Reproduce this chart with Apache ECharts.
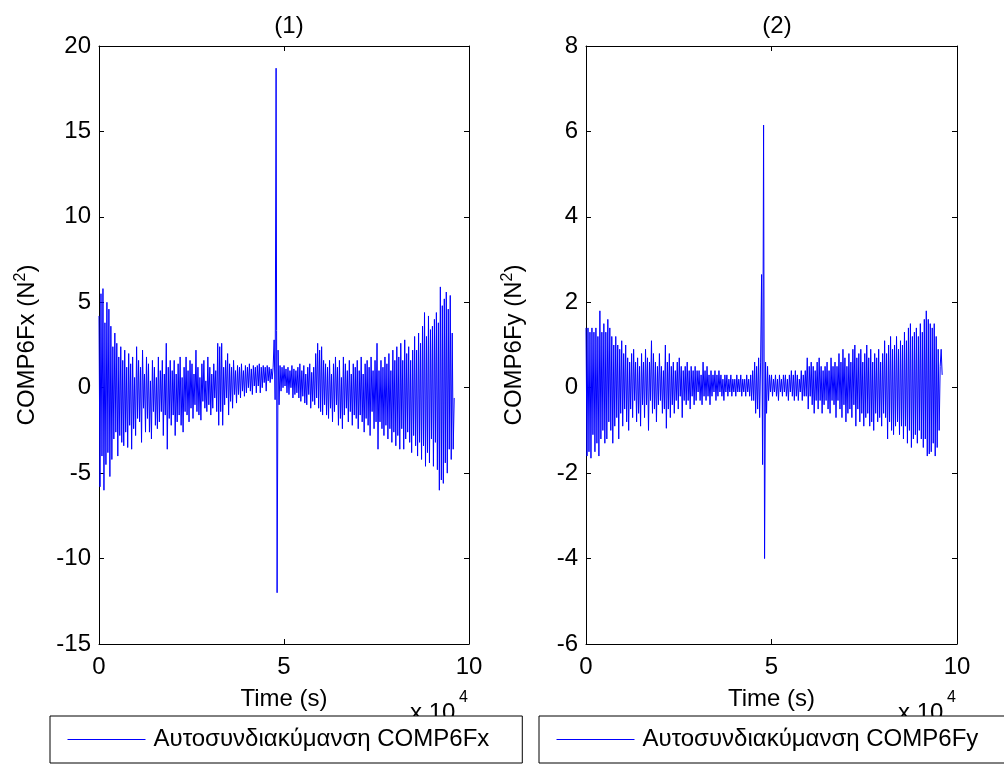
<!DOCTYPE html>
<html>
<head>
<meta charset="utf-8">
<script src="https://cdn.jsdelivr.net/npm/echarts@6/dist/echarts.min.js"></script>
<style>
html,body{margin:0;padding:0;background:#fff;}
#chart{width:1004px;height:764px;}
</style>
</head>
<body>
<div id="chart"></div>
<script>
// Time span covered by the samples (x 10^4 s)
const timeSpan = 9.6;

// Autocovariance of COMP6Fx (N^2)
const fxValues = [
  4.2, -5.8, 5.5, -4.0, 5.8, -6.0, 3.8, -4.5, 5.0, -3.8, 4.6, -5.2, 3.6, -4.2, 2.4, -3.0, 3.2, -2.6, 2.6, -4.0,
  1.8, -2.8, 2.4, -3.2, 1.6, -3.4, 2.2, -2.6, 1.2, -3.5, 2.0, -2.2, 1.4, -3.6, 1.8, -2.4, 0.6, -2.8, 2.4, -1.8,
  1.6, -2.0, 1.2, -3.2, 2.2, -1.2, 0.8, -2.6, 1.8, -1.8, 1.4, -2.6, 0.4, -3.0, 1.6, -1.4, 1.2, -2.2, 0.6, -2.4,
  1.8, -2.0, 1.0, -1.4, 1.6, -2.8, 0.8, -1.6, 2.6, -3.6, 1.2, -1.8, 1.6, -2.2, 1.0, -1.6, 1.6, -2.8, 0.8, -2.0,
  1.4, -1.6, 1.8, -2.2, 0.6, -2.6, 1.2, -1.4, 1.8, -1.6, 1.0, -2.0, 1.6, -1.2, 1.4, -1.8, 0.8, -1.0, 2.2, -1.4,
  1.2, -1.6, 0.6, -1.9, 1.4, -0.8, 1.6, -1.2, 0.4, -1.4, 1.8, -1.0, 1.2, -1.6, 0.8, -1.2, 1.4, -0.6, 1.0, -1.4,
  2.6, -2.2, 2.4, -1.4, 2.6, -2.2, 1.2, -1.0, 1.6, -0.6, 2.0, -1.6, 1.4, -0.8, 1.2, -1.2, 1.6, -0.4, 1.0, -0.9,
  1.3, -0.4, 1.2, -0.6, 1.4, -0.2, 1.0, -0.5, 1.3, -0.3, 1.2, 0.0, 1.4, -0.2, 1.1, -0.4, 1.3, 0.1, 1.2, -0.3,
  1.3, 0.1, 1.4, -0.3, 1.2, 0.0, 1.3, 0.3, 1.2, -0.2, 1.3, 0.4, 1.2, 0.3, 1.1, 0.5, 1.2, 2.8, -0.7,
  18.7, -12.0,
  2.2, -1.0, 1.3, -0.2, 1.2, 0.0, 1.3, 0.1, 1.1, -0.3, 1.2, -0.4, 1.0, 0.0, 1.3, -0.6, 1.1, -0.4, 1.0, -0.3,
  1.2, -0.6, 1.4, -0.8, 1.0, -0.5, 1.3, -0.9, 0.8, -1.0, 1.2, -0.4, 1.4, -1.2, 0.9, -0.8, 1.2, -1.0, 2.0, -0.6,
  2.6, -1.2, 2.2, -1.4, 2.4, -1.6, 1.6, -1.0, 1.4, -1.6, 1.2, -1.8, 1.6, -1.2, 0.8, -2.0, 1.4, -1.4, 1.8, -1.0,
  1.2, -2.2, 1.6, -1.8, 0.6, -2.4, 1.8, -1.6, 1.4, -1.2, 1.0, -2.0, 1.6, -1.4, 0.8, -2.2, 1.4, -1.6, 1.2, -1.8,
  1.6, -2.4, 1.0, -1.6, 1.8, -2.0, 0.8, -2.6, 1.4, -1.8, 1.6, -2.2, 1.2, -2.8, 1.8, -1.4, 1.0, -2.4, 1.6, -2.0,
  2.6, -3.6, 1.0, -2.0, 1.6, -2.4, 1.2, -2.8, 1.8, -2.2, 1.4, -3.0, 2.0, -2.4, 1.0, -3.2, 2.2, -2.6, 1.6, -3.4,
  2.4, -2.8, 1.8, -3.6, 2.6, -2.4, 1.6, -3.6, 2.8, -3.0, 2.0, -2.6, 2.4, -3.2, 1.6, -3.8, 2.2, -2.8, 3.0, -3.4,
  2.2, -4.0, 3.2, -3.2, 2.6, -4.2, 3.6, -3.4, 4.4, -4.6, 3.0, -3.8, 4.2, -4.4, 3.4, -3.0, 3.6, -4.6, 4.0, -3.2,
  4.4, -4.8, 3.8, -6.0, 5.9, -5.4, 4.8, -5.6, 5.2, -4.4, 5.6, -5.0, 4.6, -3.6, 5.4, -4.2, 3.2, -3.6, -0.6
];

// Autocovariance of COMP6Fy (N^2)
const fyValues = [
  1.4, -1.6, 1.4, -1.5, 1.3, -1.65, 1.4, -1.1, 1.3, -1.5, 1.4, -1.3, 1.2, -1.6, 1.8, -1.2, 1.3, -1.0, 1.5, -1.3,
  1.3, -1.2, 1.6, -0.8, 1.4, -1.0, 1.2, -1.3, 1.0, -0.9, 1.2, -0.7, 1.0, -1.2, 0.9, -0.6, 1.1, -0.9, 0.8, -0.5,
  1.0, -0.8, 0.7, -1.0, 0.6, -0.5, 0.8, -0.7, 0.9, -0.3, 0.6, -0.8, 0.7, -0.6, 0.5, -0.9, 0.8, -0.4, 0.6, -0.7,
  0.9, -0.4, 0.7, -1.0, 0.6, -0.3, 1.1, -0.6, 0.8, -0.5, 0.6, -0.8, 0.5, -0.4, 0.8, -0.3, 0.5, -0.6, 0.4, -0.5,
  1.0, -0.95, 0.6, -0.5, 0.8, -0.7, 0.5, -0.4, 0.6, -0.6, 0.4, -0.3, 0.6, -0.5, 0.7, -0.2, 0.5, -0.7, 0.4, -0.3,
  0.5, -0.4, 0.6, -0.3, 0.4, -0.5, 0.5, -0.2, 0.4, -0.4, 0.5, -0.3, 0.4, -0.1, 0.4, -0.3, 0.3, -0.4, 0.6, -0.2,
  0.4, -0.3, 0.5, -0.2, 0.3, -0.4, 0.4, -0.2, 0.3, -0.1, 0.4, -0.3, 0.3, -0.2, 0.4, -0.1, 0.3, -0.2, 0.2, -0.3,
  0.3, -0.1, 0.3, -0.2, 0.2, -0.1, 0.3, -0.2, 0.2, -0.1, 0.2, -0.2, 0.3, -0.1, 0.2, -0.1, 0.3, -0.2, 0.2, -0.1,
  0.2, -0.2, 0.3, -0.1, 0.2, -0.2, 0.3, -0.3, 0.4, -0.3, 0.6, -0.6, 0.5, -0.5, 0.7, -0.7, 0.6, 2.65, -1.8,
  6.15, -4.0,
  0.6, -0.6, 0.5, -0.3, 0.3, -0.1, 0.3, -0.2, 0.2, -0.1, 0.3, -0.2, 0.2, -0.3, 0.3, -0.1, 0.2, -0.2, 0.3, -0.1,
  0.3, -0.2, 0.2, -0.3, 0.3, -0.1, 0.4, -0.2, 0.3, -0.3, 0.4, -0.2, 0.3, -0.3, 0.2, -0.1, 0.4, -0.3, 0.3, -0.2,
  0.4, -0.2, 0.7, -0.5, 0.5, -0.2, 0.6, -0.4, 0.5, -0.6, 0.4, -0.3, 0.6, -0.5, 0.7, -0.3, 0.5, -0.6, 0.4, -0.4,
  0.5, -0.3, 0.6, -0.5, 0.4, -0.6, 0.7, -0.3, 0.5, -0.4, 0.6, -0.7, 0.5, -0.3, 0.8, -0.5, 0.6, -0.7, 0.9, -0.4,
  0.7, -0.8, 0.5, -0.6, 0.8, -0.5, 0.6, -0.7, 0.9, -0.4, 1.0, -0.9, 0.7, -0.5, 0.8, -0.8, 0.9, -0.6, 0.6, -0.9,
  0.8, -0.7, 1.0, -0.6, 0.7, -0.9, 0.9, -0.8, 0.6, -1.0, 0.8, -0.6, 0.7, -0.8, 0.9, -0.7, 0.6, -0.9, 0.8, -0.6,
  1.1, -0.7, 0.8, -1.2, 1.0, -0.8, 1.2, -1.0, 0.9, -1.1, 1.0, -0.9, 1.2, -0.8, 0.9, -1.1, 1.1, -0.9, 1.0, -1.2,
  1.3, -0.9, 1.1, -1.3, 1.4, -1.0, 1.5, -1.4, 1.2, -1.2, 1.3, -1.1, 1.4, -1.3, 1.2, -1.0, 1.5, -1.2, 1.3, -1.4,
  1.6, -1.2, 1.8, -1.6, 1.6, -1.55, 1.5, -1.5, 1.4, -1.3, 1.5, -1.6, 1.2, -1.4, 0.9, -1.0, 0.5, 0.9, 0.3
];

const xTicks = {min: 0, max: 10, interval: 5};
const yTicksFx = {min: -15, max: 20, interval: 5};
const yTicksFy = {min: -6, max: 8, interval: 2};
const panelTitles = ['(1)', '(2)'];
const seriesNames = ['Αυτοσυνδιακύμανση COMP6Fx', 'Αυτοσυνδιακύμανση COMP6Fy'];
const yNames = ['COMP6Fx (N{sup|2})', 'COMP6Fy (N{sup|2})'];

function toPoints(vals) {
  const n = vals.length;
  return vals.map((v, i) => [i * timeSpan / (n - 1), v]);
}

const FONT = '"Liberation Sans", Arial, sans-serif';
const FS = 24;
const black = '#000';
const blue = '#0000ff';

function xAxes(gi) {
  const base = {
    gridIndex: gi, type: 'value', min: xTicks.min, max: xTicks.max, interval: xTicks.interval,
    axisLine: {show: true, onZero: false, lineStyle: {color: black, width: 1}},
    axisTick: {show: true, inside: true, length: 5, lineStyle: {color: black}},
    splitLine: {show: false}
  };
  return [
    Object.assign({}, base, {
      position: 'bottom',
      axisLabel: {show: true, color: black, fontSize: FS, fontFamily: FONT, margin: 11},
      name: 'Time (s)', nameLocation: 'middle', nameGap: 43,
      nameTextStyle: {color: black, fontSize: FS, fontFamily: FONT}
    }),
    Object.assign({}, base, {position: 'top', axisLabel: {show: false}})
  ];
}

function yAxes(gi, ticks, name) {
  const base = {
    gridIndex: gi, type: 'value', min: ticks.min, max: ticks.max, interval: ticks.interval,
    axisLine: {show: true, onZero: false, lineStyle: {color: black, width: 1}},
    axisTick: {show: true, inside: true, length: 5, lineStyle: {color: black}},
    splitLine: {show: false}
  };
  return [
    Object.assign({}, base, {
      position: 'left',
      axisLabel: {show: true, color: black, fontSize: FS, fontFamily: FONT, margin: 8},
      name: name, nameLocation: 'middle', nameGap: 58,
      nameTextStyle: {color: black, fontSize: FS, fontFamily: FONT,
        rich: {sup: {fontSize: 16, verticalAlign: 'top', padding: [0, 0, 12, 0], color: black, fontFamily: FONT}}}
    }),
    Object.assign({}, base, {position: 'right', axisLabel: {show: false}})
  ];
}

const legendBase = {
  orient: 'horizontal', top: 716, itemWidth: 78, itemHeight: 14,
  padding: [11, 33, 11, 17], borderColor: black, borderWidth: 1, backgroundColor: '#fff',
  borderRadius: 0, z: 10,
  itemStyle: {opacity: 0},
  lineStyle: {color: blue, width: 1},
  textStyle: {color: black, fontSize: FS, fontFamily: FONT, lineHeight: 25, padding: [0, 0, 0, 3]}
};

const option = {
  animation: false,
  backgroundColor: '#fff',
  textStyle: {fontFamily: FONT},
  title: [
    {text: panelTitles[0], left: 284, top: 9, textAlign: 'center',
     textStyle: {color: black, fontSize: FS, fontWeight: 'normal', fontFamily: FONT}},
    {text: panelTitles[1], left: 772, top: 9, textAlign: 'center',
     textStyle: {color: black, fontSize: FS, fontWeight: 'normal', fontFamily: FONT}}
  ],
  grid: [
    {left: 99, top: 46, width: 370, height: 598},
    {left: 586, top: 46, width: 371, height: 598}
  ],
  xAxis: xAxes(0).concat(xAxes(1)),
  yAxis: yAxes(0, yTicksFx, yNames[0]).concat(yAxes(1, yTicksFy, yNames[1])),
  legend: [
    Object.assign({}, legendBase, {left: 50, data: [seriesNames[0]]}),
    Object.assign({}, legendBase, {left: 539, data: [seriesNames[1]]})
  ],
  graphic: [
    {type: 'text', left: 410, top: 701, z: 1,
     style: {text: 'x 10', fill: black, font: FS + 'px ' + FONT}},
    {type: 'text', left: 459, top: 690, z: 1,
     style: {text: '4', fill: black, font: '16px ' + FONT}},
    {type: 'text', left: 898, top: 701, z: 1,
     style: {text: 'x 10', fill: black, font: FS + 'px ' + FONT}},
    {type: 'text', left: 947, top: 690, z: 1,
     style: {text: '4', fill: black, font: '16px ' + FONT}}
  ],
  series: [
    {name: seriesNames[0], type: 'line', xAxisIndex: 0, yAxisIndex: 0,
     data: toPoints(fxValues), showSymbol: false, symbol: 'none',
     lineStyle: {color: blue, width: 1}, itemStyle: {color: blue}},
    {name: seriesNames[1], type: 'line', xAxisIndex: 2, yAxisIndex: 2,
     data: toPoints(fyValues), showSymbol: false, symbol: 'none',
     lineStyle: {color: blue, width: 1}, itemStyle: {color: blue}}
  ]
};

const chart = echarts.init(document.getElementById('chart'), null, {renderer: 'canvas'});
chart.setOption(option);
</script>
</body>
</html>
